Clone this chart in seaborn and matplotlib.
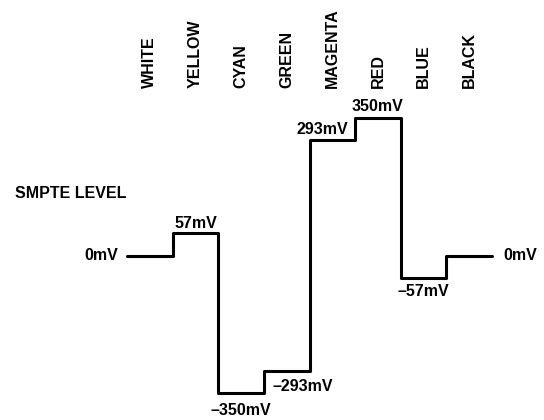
import matplotlib
matplotlib.use("Agg")
import matplotlib.pyplot as plt
import seaborn as sns
import pandas as pd

# colour bar names and their SMPTE levels (mV)
bars = ['WHITE', 'YELLOW', 'CYAN', 'GREEN', 'MAGENTA', 'RED', 'BLUE', 'BLACK']
levels_mv = [0, 57, -350, -293, 293, 350, -57, 0]

# level labels: (text, bar index anchor, level, offset px, alignment)
level_labels = [
    ('0mV', 0.0, 0, (-9, 0), 'right', 'center'),
    ('57mV', 1.5, 57, (0, 10), 'center', 'center'),
    ('\u2013350mV', 2.5, -350, (0, -17), 'center', 'center'),
    ('\u2013293mV', 3.0, -293, (9, -16), 'left', 'center'),
    ('293mV', 5.0, 293, (-7, 11), 'right', 'center'),
    ('350mV', 5.5, 350, (0, 11), 'center', 'center'),
    ('\u201357mV', 6.5, -57, (0, -14), 'center', 'center'),
    ('0mV', 8.0, 0, (11, 0), 'left', 'center'),
]

sns.set_style("white")
plt.rcParams['font.family'] = ['Liberation Sans', 'DejaVu Sans']
plt.rcParams['font.weight'] = 'bold'
plt.rcParams['text.color'] = 'black'

# step data: each bar spans one unit, last level repeated to close the step
df = pd.DataFrame({
    'pos': list(range(len(bars) + 1)),
    'mv': levels_mv + [levels_mv[-1]],
})

fig = plt.figure(figsize=(5.44, 4.2), dpi=100)
ax = fig.add_axes([0, 0, 1, 1])
sns.lineplot(data=df, x='pos', y='mv', ax=ax, color='black', linewidth=2.2,
             drawstyle='steps-post', estimator=None)

ax.set_xlim(-127 / 45.625, (544 - 127) / 45.625)
ax.set_ylim((255.5 - 420) / 0.3929, 255.5 / 0.3929)
ax.axis('off')

# bar names, rotated, above each step
for i, name in enumerate(bars):
    ax.text(i + 0.5, 426, name, rotation=90, ha='center', va='bottom',
            fontsize=11.5, fontweight='bold', color='black')

for txt, x, y, off, ha, va in level_labels:
    ax.annotate(txt, (x, y), xytext=off, textcoords='offset pixels',
                ha=ha, va=va, fontsize=11.5, fontweight='bold', color='black')

ax.text(0.028, 0.54, 'SMPTE LEVEL', transform=ax.transAxes, ha='left',
        va='center', fontsize=11.5, fontweight='bold', color='black')

fig.savefig('out.png', dpi=100)
